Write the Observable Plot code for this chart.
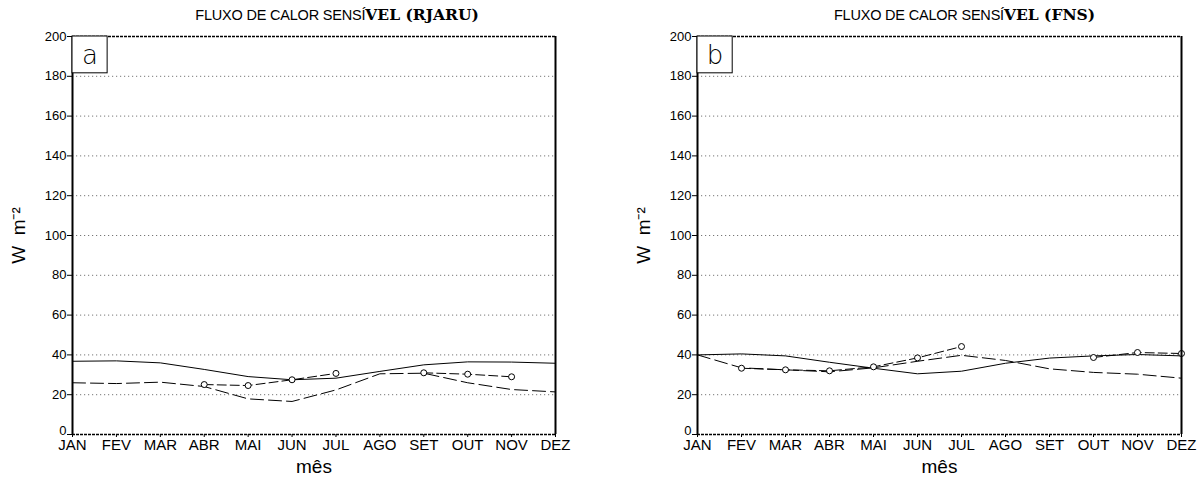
<!DOCTYPE html>
<html>
<head>
<meta charset="utf-8">
<script src="https://cdn.jsdelivr.net/npm/d3@7"></script>
<script src="https://cdn.jsdelivr.net/npm/@observablehq/plot@0.6"></script>
<style>
  html, body { margin: 0; padding: 0; background: white; }
  #wrap { display: flex; width: 1204px; height: 482px; }
</style>
</head>
<body>
<div id="wrap"></div>
<script>
const months = ["JAN","FEV","MAR","ABR","MAI","JUN","JUL","AGO","SET","OUT","NOV","DEZ"];
const yTicks = [0,20,40,60,80,100,120,140,160,180,200];
const yZeroTick = [0];
const gridValues = [20,40,60,80,100,120,140,160,180];

// Panel a — RJARU
const rjaruSolid = [36.8,37.0,36.0,32.7,29.1,27.5,28.3,31.7,35.0,36.5,36.4,35.8];
const rjaruDash  = [26.0,25.6,26.3,24.1,17.9,16.6,22.4,30.5,30.8,26.0,22.6,21.4];
const rjaruObs   = [null,null,null,25.1,24.6,27.5,30.7,null,31.0,30.3,29.0,null];

// Panel b — FNS
const fnsSolid = [40.0,40.5,39.5,36.3,33.3,30.5,31.8,35.8,38.4,39.5,40.2,39.5];
const fnsDash  = [40.0,33.5,32.5,31.5,33.5,36.8,39.8,37.2,33.0,31.2,30.3,28.3];
const fnsObs   = [null,33.3,32.5,32.0,34.0,38.5,44.2,null,null,38.7,41.2,40.7];

const titles = [
  {left: "FLUXO DE CALOR SENSÍ", right: "VEL (RJARU)"},
  {left: "FLUXO DE CALOR SENSÍ", right: "VEL (FNS)"}
];

function panel({solid, dash, obs, letter, title, ml, mr, titleDx}) {
  const idx = d3.range(months.length);
  const fullTitle = title.left + title.right;
  const chart = Plot.plot({
    width: 602, height: 482,
    marginLeft: ml, marginRight: mr, marginTop: 36, marginBottom: 48,
    x: {domain: [0, 11]},
    y: {domain: [0, 200]},
    style: {background: "white", fontFamily: "'Liberation Sans', Arial, sans-serif", color: "black"},
    marks: [
      Plot.ruleY(gridValues, {stroke: "#777", strokeDasharray: "1.2,2.8", strokeWidth: 1}),
      Plot.axisY({ticks: yTicks, tickSize: 5, tickPadding: 1, fontSize: 13, label: null, tickFormat: d => d === 0 ? "" : d}),
      Plot.axisY({ticks: yZeroTick, tickSize: 0, tickPadding: 6, fontSize: 13, label: null, tickFormat: d => d, dy: -4}),
      Plot.axisX({ticks: idx, tickSize: 3, tickPadding: 2, fontSize: 15, label: null, tickFormat: i => months[i]}),
      Plot.line(idx, {x: i => i, y: i => solid[i], stroke: "black", strokeWidth: 1}),
      Plot.line(idx, {x: i => i, y: i => dash[i], stroke: "black", strokeWidth: 1, strokeDasharray: "13,5"}),
      Plot.line(idx, {x: i => i, y: i => obs[i], stroke: "black", strokeWidth: 1, strokeDasharray: "9,4"}),
      Plot.dot(idx.filter(i => obs[i] != null), {x: i => i, y: i => obs[i], r: 3, fill: "white", stroke: "black", strokeWidth: 1}),
      Plot.ruleY([0, 200], {stroke: "black", strokeDasharray: "3,1", strokeWidth: 1.5}),
      Plot.ruleX([0, 11], {stroke: "black", strokeWidth: 2}),
      Plot.rect([letter], {x1: 0, x2: 0.8, y1: 181.5, y2: 200, fill: "white", stroke: "black", strokeWidth: 1}),
      Plot.text([letter], {x: 0.4, y: 190.5, text: d => d, fontSize: 26, fontWeight: 300, fill: "black", fontFamily: "'DejaVu Sans', sans-serif"}),
      Plot.text([fullTitle], {frameAnchor: "top", dy: -21, dx: titleDx, lineAnchor: "middle", text: d => d, fontSize: 15, fill: "black"}),
      Plot.text(["W  m⁻²"], {frameAnchor: "left", dx: -54, rotate: -90, textAnchor: "middle", lineAnchor: "middle", text: d => d, fontSize: 19, fill: "black"}),
      Plot.text(["mês"], {frameAnchor: "bottom", dy: 32, lineAnchor: "middle", text: d => d, fontSize: 19, fill: "black"})
    ]
  });
  // split the title into its two typefaces
  chart.querySelectorAll("text").forEach(t => {
    if (t.textContent === fullTitle) {
      t.textContent = "";
      const a = document.createElementNS("http://www.w3.org/2000/svg", "tspan");
      a.textContent = title.left;
      a.setAttribute("font-family", "'Liberation Sans', sans-serif");
      a.setAttribute("font-size", "14.5");
      a.setAttribute("letter-spacing", "-0.2");
      const b = document.createElementNS("http://www.w3.org/2000/svg", "tspan");
      b.textContent = title.right;
      b.setAttribute("font-family", "'DejaVu Serif', serif");
      b.setAttribute("font-weight", "bold");
      b.setAttribute("font-size", "15.5");
      t.appendChild(a);
      t.appendChild(b);
    }
  });
  return chart;
}

const wrap = document.getElementById("wrap");
wrap.appendChild(panel({solid: rjaruSolid, dash: rjaruDash, obs: rjaruObs, letter: "a", title: titles[0], ml: 72, mr: 47, titleDx: 23}));
wrap.appendChild(panel({solid: fnsSolid, dash: fnsDash, obs: fnsObs, letter: "b", title: titles[1], ml: 95, mr: 23, titleDx: 25}));
</script>
</body>
</html>
